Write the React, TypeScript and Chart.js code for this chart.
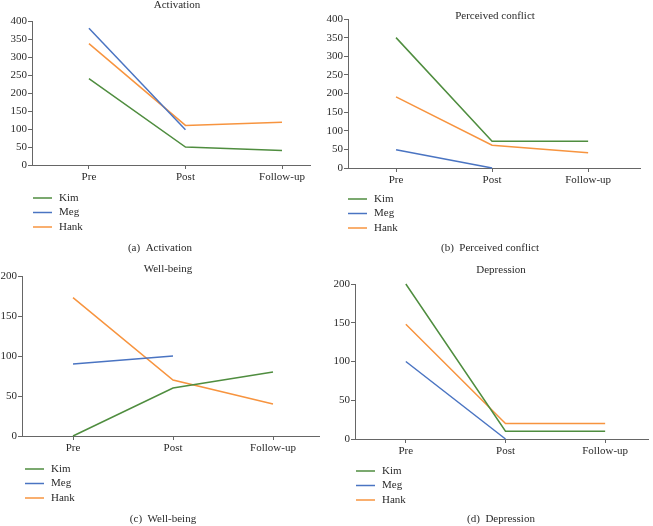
import React, { useEffect, useRef } from "react";
import { Chart, registerables } from "chart.js";

Chart.register(...registerables);

// ---- data ----
const xLabels = ["Pre", "Post", "Follow-up"];
const seriesNames = ["Kim", "Meg", "Hank"];
const seriesColors = ["#4f8d3f", "#4a74c2", "#f7943f"];

const activationKim = [240, 50, 40];
const activationMeg = [380, 98, null];
const activationHank = [337, 110, 119];

const conflictKim = [350, 72, 72];
const conflictMeg = [49, 0, null];
const conflictHank = [191, 61, 41];

const wellbeingKim = [0, 60, 80];
const wellbeingMeg = [90, 100, null];
const wellbeingHank = [173, 70, 40];

const depressionKim = [200, 10, 10];
const depressionMeg = [100, 0, null];
const depressionHank = [148, 20, 20];

const W = 653;
const H = 526;
const YW = 40;
const XH = 24;
const FONT = '"Liberation Serif", "DejaVu Serif", serif';
const TEXT = "#2a2a2a";
const AXIS = "#666";

const panels = [
  {
    title: "Activation", caption: "(a)  Activation", yMax: 400,
    series: [activationKim, activationMeg, activationHank],
    axisX: 32, xEnd: 310, yTop: 21, yBottom: 165, xMin: -0.59, xMax: 2.29,
    titleX: 177, titleY: 5, legX: 33, legY: 198, capX: 160, capY: 248,
  },
  {
    title: "Perceived conflict", caption: "(b)  Perceived conflict", yMax: 400,
    series: [conflictKim, conflictMeg, conflictHank],
    axisX: 348, xEnd: 640, yTop: 19, yBottom: 168, xMin: -0.5, xMax: 2.54,
    titleX: 495, titleY: 16, legX: 348, legY: 199, capX: 490, capY: 248,
  },
  {
    title: "Well-being", caption: "(c)  Well-being", yMax: 200,
    series: [wellbeingKim, wellbeingMeg, wellbeingHank],
    axisX: 22, xEnd: 319, yTop: 276, yBottom: 436, xMin: -0.51, xMax: 2.46,
    titleX: 168, titleY: 269, legX: 25, legY: 469, capX: 163, capY: 519,
  },
  {
    title: "Depression", caption: "(d)  Depression", yMax: 200,
    series: [depressionKim, depressionMeg, depressionHank],
    axisX: 355, xEnd: 648, yTop: 284, yBottom: 439, xMin: -0.51, xMax: 2.43,
    titleX: 501, titleY: 270, legX: 356, legY: 471, capX: 501, capY: 519,
  },
];

function Panel({ cfg }: { cfg: any }) {
  const ref = useRef<HTMLCanvasElement | null>(null);
  useEffect(() => {
    if (!ref.current) return;
    const textPlugin = {
      id: "panelText",
      afterDraw(chart: any) {
        const ctx = chart.ctx;
        ctx.save();
        ctx.font = `11px ${FONT}`;
        ctx.fillStyle = TEXT;
        ctx.textBaseline = "middle";
        ctx.textAlign = "center";
        ctx.fillText(cfg.title, cfg.titleX, cfg.titleY);
        ctx.fillText(cfg.caption, cfg.capX, cfg.capY);
        ctx.textAlign = "left";
        chart.data.datasets.forEach((ds: any, i: number) => {
          const y = cfg.legY + i * 14.5;
          ctx.strokeStyle = ds.borderColor;
          ctx.lineWidth = 1.5;
          ctx.beginPath();
          ctx.moveTo(cfg.legX, y);
          ctx.lineTo(cfg.legX + 19, y);
          ctx.stroke();
          ctx.fillStyle = TEXT;
          ctx.fillText(ds.label, cfg.legX + 26, y);
        });
        ctx.restore();
      },
    };
    const chart = new Chart(ref.current, {
      type: "line",
      data: {
        datasets: cfg.series.map((vals: (number | null)[], i: number) => ({
          label: seriesNames[i],
          data: vals.map((v, j) => ({ x: j, y: v })),
          borderColor: seriesColors[i],
          backgroundColor: seriesColors[i],
          borderWidth: 1.5,
          pointRadius: 0,
          tension: 0,
          spanGaps: false,
          clip: 3,
        })),
      },
      options: {
        responsive: false,
        animation: false,
        devicePixelRatio: 1,
        events: [],
        layout: {
          padding: {
            left: cfg.axisX - YW,
            top: cfg.yTop,
            right: W - cfg.xEnd,
            bottom: H - cfg.yBottom - XH,
          },
        },
        plugins: {
          legend: { display: false },
          title: { display: false },
          tooltip: { enabled: false },
        },
        scales: {
          x: {
            type: "linear",
            min: cfg.xMin,
            max: cfg.xMax,
            afterBuildTicks: (s: any) => {
              s.ticks = [0, 1, 2].map((v) => ({ value: v }));
            },
            afterFit: (s: any) => {
              s.height = XH;
            },
            ticks: {
              callback: (v: any) => xLabels[v as number] ?? "",
              font: { family: FONT, size: 11 },
              color: TEXT,
              padding: 2,
              maxRotation: 0,
              autoSkip: false,
            },
            grid: { display: true, drawOnChartArea: false, drawTicks: true, tickLength: 4, color: AXIS },
            border: { display: true, color: AXIS, width: 1 },
          },
          y: {
            type: "linear",
            min: 0,
            max: cfg.yMax,
            afterFit: (s: any) => {
              s.width = YW;
            },
            ticks: {
              stepSize: 50,
              font: { family: FONT, size: 11 },
              color: TEXT,
              padding: 1,
            },
            grid: { display: true, drawOnChartArea: false, drawTicks: true, tickLength: 4, color: AXIS },
            border: { display: true, color: AXIS, width: 1 },
          },
        },
      },
      plugins: [textPlugin],
    } as any);
    return () => chart.destroy();
  }, [cfg]);
  return (
    <canvas
      ref={ref}
      width={W}
      height={H}
      style={{ position: "absolute", left: 0, top: 0, width: W, height: H }}
    />
  );
}

export default function App() {
  return (
    <div style={{ position: "fixed", left: 0, top: 0, width: W, height: H, background: "#fff" }}>
      {panels.map((p, i) => (
        <Panel key={i} cfg={p} />
      ))}
    </div>
  );
}
